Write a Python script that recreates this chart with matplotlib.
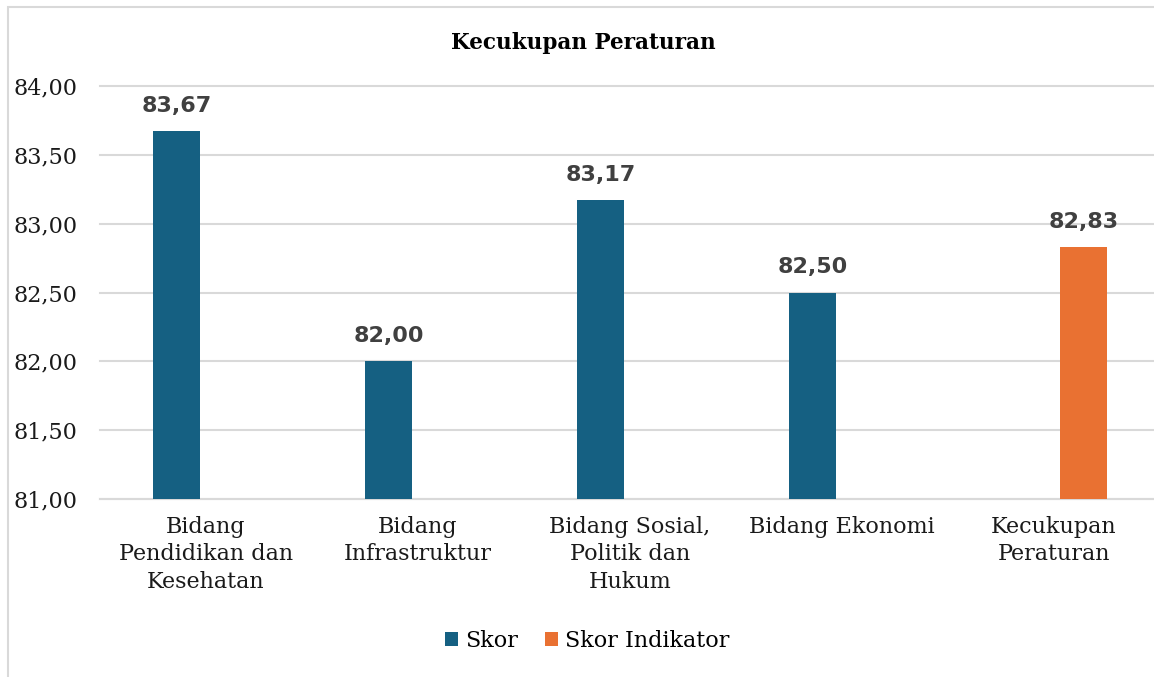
import matplotlib
matplotlib.use('Agg')
import matplotlib.pyplot as plt
import numpy as np
from matplotlib.patches import Rectangle

categories = ['Bidang\nPendidikan dan\nKesehatan', 'Bidang\nInfrastruktur',
              'Bidang Sosial,\nPolitik dan\nHukum', 'Bidang Ekonomi',
              'Kecukupan\nPeraturan']
skor = [83.67, 82.00, 83.17, 82.50, np.nan]
skor_indikator = [np.nan, np.nan, np.nan, np.nan, 82.83]
yticks = [81.0, 81.5, 82.0, 82.5, 83.0, 83.5, 84.0]

blue = '#156082'
orange = '#E97132'
grid = '#d9d9d9'

W, H = 1154, 677
fig = plt.figure(figsize=(W / 100, H / 100), dpi=100)

# chart area border (cropped on right/bottom like the source)
fig.patches.append(Rectangle((8 / W, -0.1), 1.2, 1 - 7 / H + 0.1, transform=fig.transFigure,
                             fill=False, edgecolor=grid, linewidth=1.5, zorder=0))

ax = fig.add_axes([100 / W, 1 - 499 / H, 1060 / W, 413 / H])
x = np.arange(len(categories))
bw = 0.222
off = 0.138
b1 = ax.bar(x - off, skor, bw, color=blue, label='Skor', zorder=3)
b2 = ax.bar(x + off, skor_indikator, bw, color=orange, label='Skor Indikator', zorder=3)

for bars, vals in ((b1, skor), (b2, skor_indikator)):
    for rect, v in zip(bars, vals):
        if np.isnan(v):
            continue
        ax.annotate(f'{v:.2f}'.replace('.', ','), (rect.get_x() + rect.get_width() / 2, v),
                    xytext=(0, 18), textcoords='offset points', ha='center', va='center',
                    fontsize=16, fontweight='bold', color='#404040', family='DejaVu Sans')

ax.set_ylim(81, 84)
ax.set_xlim(-0.5, len(categories) - 0.5)
ax.set_yticks(yticks)
ax.set_yticklabels([f'{t:.2f}'.replace('.', ',') for t in yticks],
                   fontsize=16, family='DejaVu Serif', color='#1a1a1a')
ax.set_xticks(x)
ax.set_xticklabels(categories, fontsize=16, family='DejaVu Serif', color='#1a1a1a',
                   linespacing=1.33)
ax.tick_params(axis='y', length=0, pad=16)
ax.tick_params(axis='x', length=0, pad=12)
ax.grid(axis='y', color=grid, linewidth=1.5, zorder=0)
for gl in ax.get_ygridlines():
    gl.set_clip_on(False)
for s in ['top', 'right', 'left']:
    ax.spines[s].set_visible(False)
ax.spines['bottom'].set_color(grid)
ax.spines['bottom'].set_linewidth(1.5)

fig.text(583 / W, 1 - 43 / H, 'Kecukupan Peraturan', ha='center', va='center',
         fontsize=15.5, fontweight='bold', family='DejaVu Serif', color='black')

fig.legend(handles=[b1, b2], loc='center', bbox_to_anchor=(587 / W, 1 - 641 / H),
           ncol=2, frameon=False, prop={'family': 'DejaVu Serif', 'size': 16},
           handlelength=0.6, handleheight=0.6, handletextpad=0.3, columnspacing=1.2)

fig.savefig('out.png', dpi=100)
